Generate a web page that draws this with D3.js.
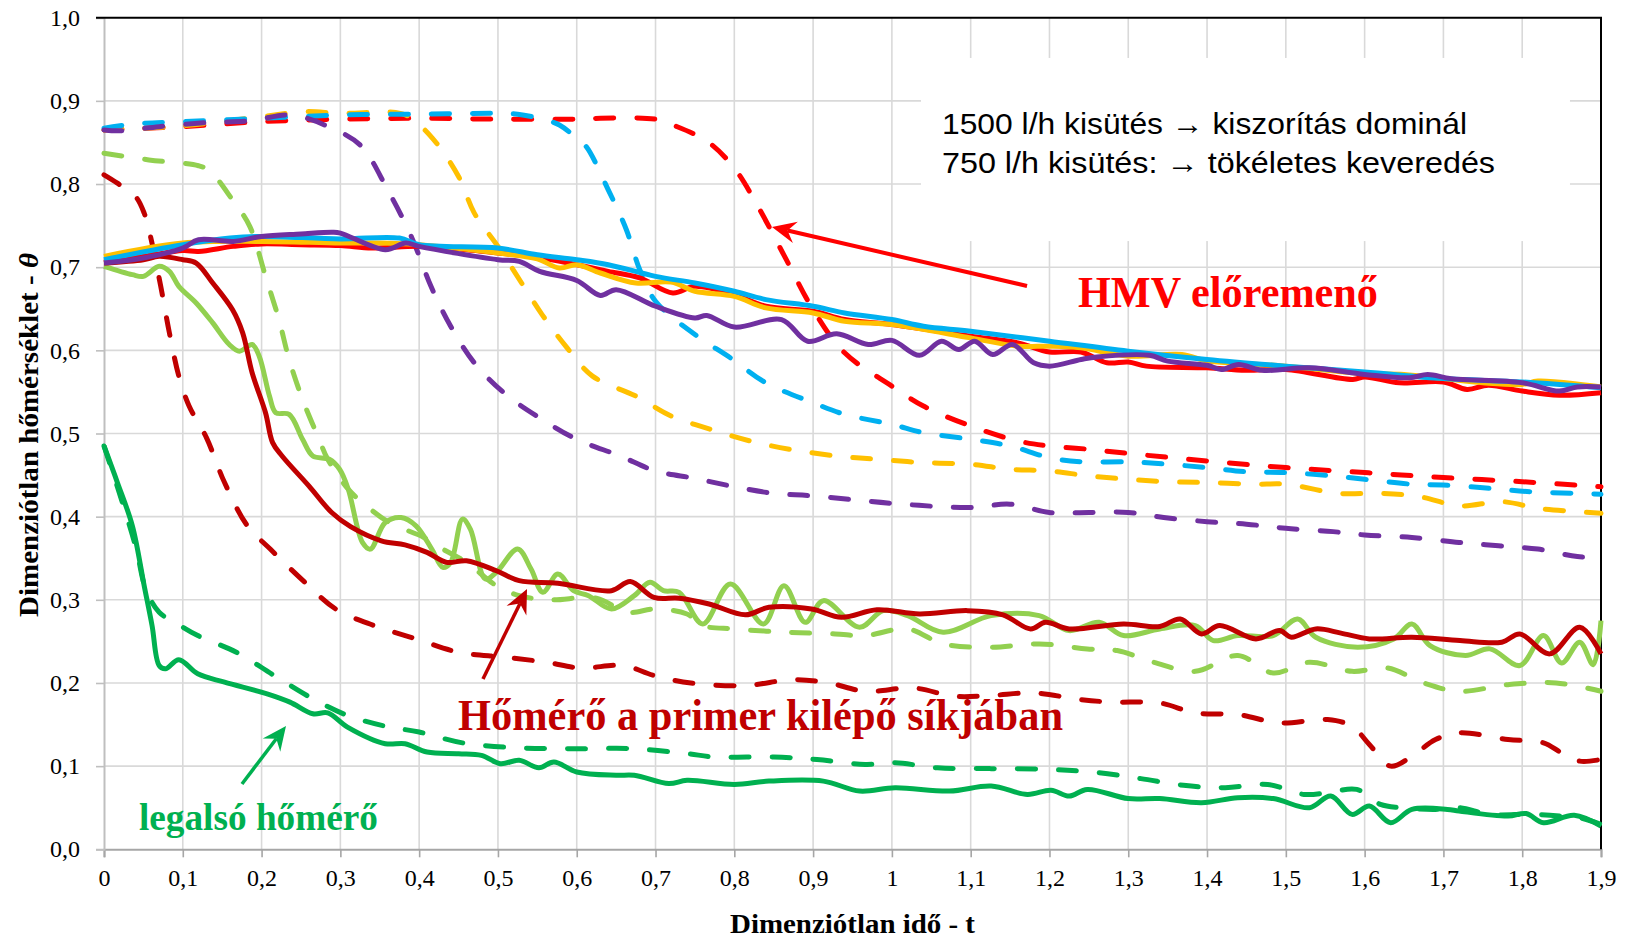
<!DOCTYPE html>
<html><head><meta charset="utf-8">
<script src="https://cdn.jsdelivr.net/npm/d3@7"></script>
<style>body{margin:0;background:#fff;} svg{display:block}</style>
</head><body><svg id="c" width="1630" height="940"></svg>
<script>
// ---------- data ----------
const xTicks = [0,0.1,0.2,0.3,0.4,0.5,0.6,0.7,0.8,0.9,1,1.1,1.2,1.3,1.4,1.5,1.6,1.7,1.8,1.9];
const yTicks = [0,0.1,0.2,0.3,0.4,0.5,0.6,0.7,0.8,0.9,1.0];

const redSolid = [[0,0.706],[0.05,0.713],[0.1,0.72],[0.12,0.719],[0.164,0.725],[0.2,0.728],[0.25,0.727],[0.3,0.726],[0.34,0.723],[0.4,0.725],[0.46,0.721],[0.5,0.717],[0.55,0.712],[0.6,0.703],[0.64,0.695],[0.68,0.687],[0.722,0.669],[0.75,0.677],[0.8,0.667],[0.84,0.653],[0.9,0.647],[0.94,0.637],[1.0,0.631],[1.1,0.617],[1.16,0.609],[1.2,0.598],[1.24,0.598],[1.273,0.585],[1.3,0.586],[1.323,0.581],[1.4,0.579],[1.449,0.576],[1.5,0.577],[1.585,0.565],[1.6,0.568],[1.644,0.561],[1.7,0.562],[1.73,0.553],[1.757,0.558],[1.8,0.551],[1.847,0.546],[1.9,0.549]];
const yellowSolid = [[0,0.713],[0.1,0.729],[0.2,0.731],[0.3,0.729],[0.35,0.729],[0.4,0.727],[0.5,0.717],[0.55,0.71],[0.578,0.699],[0.6,0.703],[0.63,0.693],[0.675,0.681],[0.72,0.682],[0.75,0.671],[0.8,0.665],[0.84,0.651],[0.9,0.645],[0.94,0.635],[1.0,0.631],[1.1,0.615],[1.16,0.605],[1.2,0.605],[1.24,0.603],[1.3,0.593],[1.368,0.595],[1.4,0.587],[1.45,0.584],[1.5,0.581],[1.6,0.572],[1.65,0.571],[1.7,0.566],[1.75,0.561],[1.8,0.559],[1.82,0.563],[1.9,0.556]];
const blueSolid = [[0,0.709],[0.1,0.727],[0.16,0.735],[0.2,0.737],[0.3,0.734],[0.375,0.735],[0.4,0.727],[0.5,0.723],[0.55,0.715],[0.6,0.709],[0.64,0.703],[0.7,0.689],[0.75,0.681],[0.8,0.671],[0.84,0.661],[0.9,0.653],[0.94,0.645],[1.0,0.637],[1.04,0.629],[1.1,0.623],[1.2,0.611],[1.3,0.599],[1.4,0.589],[1.5,0.581],[1.6,0.574],[1.7,0.566],[1.8,0.562],[1.9,0.555]];
const purpleSolid = [[0,0.705],[0.05,0.711],[0.1,0.723],[0.12,0.733],[0.164,0.731],[0.2,0.737],[0.25,0.74],[0.29,0.742],[0.3,0.741],[0.357,0.721],[0.383,0.729],[0.4,0.725],[0.5,0.709],[0.527,0.707],[0.553,0.695],[0.6,0.684],[0.63,0.666],[0.65,0.673],[0.7,0.653],[0.75,0.639],[0.765,0.642],[0.8,0.628],[0.86,0.637],[0.893,0.611],[0.93,0.62],[0.97,0.607],[1.0,0.612],[1.035,0.594],[1.063,0.611],[1.085,0.601],[1.105,0.611],[1.128,0.595],[1.153,0.607],[1.18,0.585],[1.2,0.581],[1.24,0.589],[1.26,0.592],[1.327,0.594],[1.35,0.587],[1.4,0.582],[1.418,0.577],[1.44,0.583],[1.47,0.576],[1.53,0.579],[1.6,0.571],[1.657,0.567],[1.68,0.571],[1.71,0.566],[1.8,0.561],[1.847,0.551],[1.87,0.556],[1.9,0.556]];

const redDashed = [[0,0.865],[0.1,0.869],[0.2,0.875],[0.3,0.878],[0.4,0.879],[0.5,0.878],[0.6,0.878],[0.63,0.879],[0.7,0.878],[0.722,0.871],[0.766,0.851],[0.8,0.819],[0.83,0.773],[0.866,0.709],[0.9,0.649],[0.94,0.597],[1.0,0.557],[1.04,0.533],[1.1,0.509],[1.16,0.491],[1.2,0.485],[1.25,0.481],[1.3,0.476],[1.4,0.467],[1.5,0.459],[1.6,0.453],[1.7,0.447],[1.8,0.442],[1.9,0.436]];
const yellowDashed = [[0,0.865],[0.1,0.87],[0.2,0.881],[0.256,0.887],[0.3,0.885],[0.37,0.886],[0.387,0.881],[0.417,0.855],[0.45,0.809],[0.47,0.765],[0.5,0.725],[0.53,0.681],[0.556,0.643],[0.586,0.605],[0.62,0.569],[0.675,0.545],[0.72,0.521],[0.77,0.505],[0.82,0.491],[0.87,0.481],[0.93,0.473],[0.98,0.469],[1.04,0.465],[1.1,0.463],[1.15,0.457],[1.2,0.455],[1.25,0.449],[1.3,0.445],[1.35,0.442],[1.4,0.441],[1.46,0.439],[1.5,0.439],[1.567,0.428],[1.62,0.428],[1.67,0.424],[1.72,0.413],[1.775,0.418],[1.82,0.41],[1.87,0.406],[1.9,0.404]];
const blueDashed = [[0,0.867],[0.036,0.872],[0.1,0.875],[0.2,0.879],[0.3,0.883],[0.4,0.884],[0.5,0.885],[0.525,0.884],[0.557,0.878],[0.578,0.871],[0.6,0.855],[0.612,0.845],[0.64,0.793],[0.663,0.745],[0.68,0.697],[0.7,0.659],[0.75,0.619],[0.795,0.591],[0.84,0.561],[0.9,0.537],[0.94,0.523],[1.0,0.511],[1.04,0.501],[1.1,0.493],[1.15,0.485],[1.2,0.471],[1.24,0.466],[1.3,0.466],[1.35,0.463],[1.4,0.459],[1.45,0.454],[1.5,0.453],[1.56,0.449],[1.6,0.445],[1.66,0.439],[1.7,0.438],[1.76,0.434],[1.81,0.43],[1.87,0.428],[1.9,0.427]];
const purpleDashed = [[0,0.865],[0.02,0.864],[0.07,0.869],[0.134,0.874],[0.185,0.876],[0.23,0.883],[0.25,0.881],[0.28,0.871],[0.325,0.847],[0.36,0.793],[0.39,0.737],[0.415,0.677],[0.44,0.629],[0.47,0.585],[0.51,0.547],[0.556,0.517],[0.6,0.493],[0.655,0.473],[0.7,0.455],[0.75,0.446],[0.8,0.436],[0.85,0.428],[0.9,0.425],[1.0,0.416],[1.1,0.411],[1.15,0.415],[1.2,0.405],[1.25,0.405],[1.3,0.405],[1.345,0.399],[1.4,0.394],[1.45,0.391],[1.5,0.386],[1.56,0.382],[1.6,0.378],[1.66,0.375],[1.72,0.369],[1.77,0.365],[1.82,0.361],[1.87,0.352],[1.9,0.351]];

const lightGreenDashed = [[0,0.837],[0.057,0.829],[0.12,0.822],[0.134,0.816],[0.163,0.781],[0.185,0.749],[0.205,0.689],[0.222,0.637],[0.235,0.589],[0.252,0.541],[0.273,0.493],[0.284,0.469],[0.31,0.433],[0.333,0.413],[0.362,0.393],[0.406,0.375],[0.43,0.361],[0.46,0.345],[0.498,0.317],[0.527,0.305],[0.566,0.3],[0.625,0.302],[0.664,0.285],[0.7,0.289],[0.74,0.283],[0.76,0.269],[0.8,0.265],[0.867,0.261],[0.928,0.259],[0.966,0.257],[1.02,0.265],[1.065,0.247],[1.126,0.243],[1.187,0.247],[1.248,0.241],[1.286,0.239],[1.332,0.225],[1.385,0.214],[1.439,0.233],[1.484,0.212],[1.53,0.225],[1.584,0.214],[1.629,0.218],[1.675,0.2],[1.72,0.19],[1.782,0.198],[1.843,0.2],[1.9,0.19]];
const lightGreenSolid = [[0,0.701],[0.036,0.691],[0.05,0.689],[0.07,0.701],[0.083,0.695],[0.095,0.677],[0.117,0.657],[0.138,0.633],[0.159,0.607],[0.172,0.599],[0.188,0.607],[0.197,0.593],[0.21,0.545],[0.218,0.525],[0.235,0.523],[0.252,0.493],[0.265,0.473],[0.286,0.469],[0.299,0.457],[0.31,0.433],[0.328,0.369],[0.338,0.361],[0.357,0.393],[0.377,0.399],[0.396,0.389],[0.416,0.361],[0.43,0.339],[0.44,0.345],[0.455,0.397],[0.465,0.385],[0.484,0.325],[0.498,0.333],[0.525,0.361],[0.542,0.337],[0.557,0.309],[0.576,0.331],[0.596,0.311],[0.615,0.305],[0.644,0.289],[0.673,0.305],[0.693,0.321],[0.71,0.311],[0.73,0.309],[0.76,0.271],[0.795,0.319],[0.837,0.271],[0.863,0.317],[0.89,0.273],[0.913,0.299],[0.959,0.267],[0.989,0.287],[1.02,0.281],[1.065,0.261],[1.126,0.281],[1.187,0.281],[1.225,0.263],[1.263,0.273],[1.294,0.257],[1.34,0.265],[1.385,0.269],[1.408,0.251],[1.439,0.257],[1.484,0.257],[1.515,0.277],[1.538,0.255],[1.591,0.243],[1.637,0.253],[1.66,0.271],[1.683,0.245],[1.728,0.233],[1.759,0.241],[1.797,0.221],[1.827,0.257],[1.85,0.224],[1.873,0.249],[1.89,0.222],[1.9,0.275]];

const darkRedDashed = [[0,0.811],[0.017,0.801],[0.04,0.785],[0.051,0.765],[0.059,0.737],[0.072,0.677],[0.083,0.621],[0.095,0.569],[0.108,0.533],[0.13,0.495],[0.153,0.441],[0.182,0.389],[0.211,0.361],[0.255,0.321],[0.294,0.289],[0.343,0.269],[0.396,0.253],[0.45,0.237],[0.508,0.231],[0.561,0.225],[0.605,0.218],[0.659,0.221],[0.698,0.209],[0.745,0.2],[0.814,0.197],[0.875,0.204],[0.92,0.2],[0.966,0.19],[1.027,0.194],[1.08,0.184],[1.126,0.185],[1.18,0.188],[1.24,0.18],[1.279,0.177],[1.34,0.176],[1.385,0.164],[1.439,0.162],[1.492,0.152],[1.553,0.156],[1.584,0.148],[1.606,0.126],[1.633,0.1],[1.66,0.112],[1.69,0.132],[1.72,0.14],[1.782,0.132],[1.827,0.128],[1.85,0.116],[1.873,0.106],[1.9,0.108]];
const darkRedSolid = [[0,0.705],[0.05,0.709],[0.07,0.713],[0.1,0.709],[0.117,0.705],[0.138,0.681],[0.163,0.649],[0.176,0.621],[0.188,0.573],[0.205,0.525],[0.214,0.489],[0.226,0.473],[0.26,0.437],[0.289,0.405],[0.313,0.388],[0.352,0.371],[0.382,0.366],[0.41,0.357],[0.435,0.345],[0.46,0.347],[0.498,0.335],[0.527,0.323],[0.576,0.32],[0.644,0.311],[0.668,0.322],[0.698,0.303],[0.73,0.302],[0.768,0.295],[0.814,0.282],[0.844,0.291],[0.898,0.289],[0.936,0.279],[0.981,0.288],[1.035,0.283],[1.096,0.287],[1.141,0.282],[1.176,0.265],[1.195,0.273],[1.225,0.265],[1.294,0.271],[1.34,0.268],[1.366,0.277],[1.393,0.259],[1.416,0.269],[1.462,0.253],[1.492,0.263],[1.507,0.255],[1.538,0.265],[1.57,0.26],[1.606,0.253],[1.66,0.255],[1.721,0.251],[1.774,0.249],[1.797,0.259],[1.835,0.235],[1.873,0.267],[1.9,0.235]];

const greenDashed = [[0,0.485],[0.022,0.421],[0.041,0.361],[0.053,0.313],[0.07,0.285],[0.09,0.273],[0.119,0.257],[0.168,0.237],[0.216,0.209],[0.265,0.181],[0.309,0.161],[0.357,0.148],[0.4,0.141],[0.455,0.128],[0.527,0.122],[0.6,0.121],[0.673,0.121],[0.74,0.115],[0.776,0.111],[0.85,0.111],[0.905,0.108],[0.966,0.102],[1.004,0.104],[1.058,0.098],[1.126,0.097],[1.202,0.096],[1.263,0.092],[1.316,0.085],[1.37,0.077],[1.423,0.074],[1.477,0.078],[1.523,0.066],[1.553,0.068],[1.59,0.072],[1.62,0.054],[1.645,0.05],[1.69,0.048],[1.72,0.05],[1.759,0.042],[1.812,0.042],[1.85,0.04],[1.873,0.038],[1.9,0.03]];
const greenSolid = [[0,0.485],[0.017,0.441],[0.036,0.389],[0.051,0.317],[0.061,0.269],[0.07,0.221],[0.078,0.217],[0.095,0.228],[0.119,0.211],[0.153,0.201],[0.207,0.187],[0.236,0.177],[0.265,0.163],[0.284,0.164],[0.309,0.147],[0.357,0.127],[0.382,0.127],[0.41,0.117],[0.45,0.115],[0.479,0.113],[0.503,0.103],[0.527,0.107],[0.552,0.098],[0.571,0.105],[0.6,0.093],[0.65,0.089],[0.673,0.089],[0.717,0.079],[0.74,0.083],[0.8,0.078],[0.844,0.082],[0.913,0.082],[0.959,0.07],[1.004,0.074],[1.073,0.07],[1.126,0.076],[1.172,0.066],[1.202,0.071],[1.225,0.064],[1.248,0.072],[1.3,0.061],[1.34,0.061],[1.393,0.056],[1.439,0.062],[1.484,0.061],[1.53,0.05],[1.557,0.064],[1.584,0.042],[1.606,0.052],[1.633,0.032],[1.66,0.048],[1.705,0.048],[1.72,0.046],[1.782,0.04],[1.805,0.043],[1.827,0.032],[1.866,0.041],[1.9,0.028]];

// series list (drawing order)
const series = [
  {data: redDashed,        color: "#FF0000", dashed: true},
  {data: yellowDashed,     color: "#FFC000", dashed: true},
  {data: blueDashed,       color: "#00B0F0", dashed: true},
  {data: purpleDashed,     color: "#7030A0", dashed: true},
  {data: lightGreenDashed, color: "#92D050", dashed: true},
  {data: darkRedDashed,    color: "#C00000", dashed: true},
  {data: greenDashed,      color: "#00B050", dashed: true},
  {data: lightGreenSolid,  color: "#92D050", dashed: false},
  {data: darkRedSolid,     color: "#C00000", dashed: false},
  {data: greenSolid,       color: "#00B050", dashed: false},
  {data: redSolid,         color: "#FF0000", dashed: false},
  {data: yellowSolid,      color: "#FFC000", dashed: false},
  {data: blueSolid,        color: "#00B0F0", dashed: false},
  {data: purpleSolid,      color: "#7030A0", dashed: false}
];

// annotations (data units)
const noteLines = ["1500 l/h kisütés \u2192 kiszorítás dominál", "750 l/h kisütés:  \u2192 tökéletes keveredés"];
const labels = [
  {text: "HMV előremenő", t: 1.2362, v: 0.652, color: "#FF0000", size: 45, len: 300},
  {text: "Hőmérő a primer kilépő síkjában", t: 0.4493, v: 0.1435, color: "#C00000", size: 45, len: 605},
  {text: "legalsó hőmérő", t: 0.0444, v: 0.0232, color: "#00B050", size: 37, len: 239}
];
const arrows = [
  {from: [1.1715, 0.6774], to: [0.8478, 0.7484], color: "#FF0000", w: 4},
  {from: [0.481, 0.2047], to: [0.5369, 0.3129], color: "#C00000", w: 3.5},
  {from: [0.1751, 0.0785], to: [0.231, 0.1483], color: "#00B050", w: 3.5}
];

// ---------- drawing ----------
const svg = d3.select("#c");
const L = 104, R = 1601, T = 17.7, B = 849.3;
const x = d3.scaleLinear().domain([0, 1.9]).range([L, R]);
const y = d3.scaleLinear().domain([0, 1]).range([B, T]);
const fmtY = v => d3.format(".1f")(v).replace(".", ",");
const fmtX = v => (Math.round(v * 10) / 10).toString().replace(".", ",");

// gridlines
const grid = svg.append("g");
grid.selectAll("line.v").data(xTicks.slice(1)).join("line")
  .attr("x1", d => x(d)).attr("x2", d => x(d)).attr("y1", T).attr("y2", B)
  .attr("stroke", "#d9d9d9").attr("stroke-width", 1.6);
grid.selectAll("line.h").data(yTicks.slice(1, -1)).join("line")
  .attr("x1", L).attr("x2", R).attr("y1", d => y(d)).attr("y2", d => y(d))
  .attr("stroke", "#d9d9d9").attr("stroke-width", 1.6);

// white box behind upper note (covers gridlines)
svg.append("rect")
  .attr("x", x(1.0369)).attr("y", y(0.9516))
  .attr("width", x(1.8606) - x(1.0369)).attr("height", y(0.7314) - y(0.9516))
  .attr("fill", "#fff");

// axes
const xAxis = d3.axisBottom(x).tickValues(xTicks).tickFormat(fmtX).tickSize(8).tickPadding(12);
const gx = svg.append("g").attr("transform", `translate(0,${B})`).call(xAxis);
gx.select(".domain").attr("stroke", "#a6a6a6").attr("stroke-width", 2);
gx.selectAll(".tick line").attr("stroke", "#a6a6a6").attr("stroke-width", 1.6);
gx.selectAll(".tick text").attr("font-family", "'Liberation Serif', serif").attr("font-size", 24).attr("fill", "#000");

const yAxis = d3.axisLeft(y).tickValues(yTicks).tickFormat(fmtY).tickSize(8).tickPadding(16);
const gy = svg.append("g").attr("transform", `translate(${L},0)`).call(yAxis);
gy.select(".domain").attr("stroke", "#bfbfbf").attr("stroke-width", 2);
gy.selectAll(".tick line").attr("stroke", "#bfbfbf").attr("stroke-width", 1.6);
gy.selectAll(".tick text").attr("font-family", "'Liberation Serif', serif").attr("font-size", 24).attr("fill", "#000");

// top and right border
svg.append("line").attr("x1", L - 8).attr("x2", R + 1).attr("y1", T).attr("y2", T).attr("stroke", "#000").attr("stroke-width", 2);
svg.append("line").attr("x1", R).attr("x2", R).attr("y1", T).attr("y2", B).attr("stroke", "#000").attr("stroke-width", 2);

// series
const line = d3.line().x(d => x(d[0])).y(d => y(d[1])).curve(d3.curveCatmullRom.alpha(0.5));
const gs = svg.append("g");
series.forEach(s => {
  gs.append("path").attr("d", line(s.data))
    .attr("fill", "none").attr("stroke", s.color).attr("stroke-width", 5)
    .attr("stroke-linejoin", "round")
    .attr("stroke-linecap", s.dashed ? "round" : "butt")
    .attr("stroke-dasharray", s.dashed ? "18,23" : null);
});

// upper note text
noteLines.forEach((txt, i) => {
  svg.append("text").attr("x", x(1.0636)).attr("y", y(i === 0 ? 0.8601 : 0.8132))
    .attr("font-family", "'Liberation Sans', Arial, sans-serif").attr("font-size", 30)
    .attr("textLength", i === 0 ? 525 : 553).attr("lengthAdjust", "spacingAndGlyphs")
    .attr("fill", "#000").text(txt);
});

// labels
labels.forEach(l => {
  svg.append("text").attr("x", x(l.t)).attr("y", y(l.v))
    .attr("font-family", "'Liberation Serif', 'Times New Roman', serif").attr("font-weight", "bold")
    .attr("font-size", l.size).attr("fill", l.color)
    .attr("textLength", l.len).attr("lengthAdjust", "spacingAndGlyphs")
    .text(l.text);
});

// arrows
arrows.forEach(a => {
  const x1 = x(a.from[0]), y1 = y(a.from[1]), x2 = x(a.to[0]), y2 = y(a.to[1]);
  const ang = Math.atan2(y2 - y1, x2 - x1);
  const len = 24, wid = 11, notch = 8;
  const ux = Math.cos(ang), uy = Math.sin(ang), px = -uy, py = ux;
  const bx = x2 - ux * len, by = y2 - uy * len;
  const nx = x2 - ux * (len - notch), ny = y2 - uy * (len - notch);
  svg.append("line").attr("x1", x1).attr("y1", y1).attr("x2", nx).attr("y2", ny)
    .attr("stroke", a.color).attr("stroke-width", a.w);
  svg.append("path")
    .attr("d", `M${x2},${y2} L${bx + px * wid},${by + py * wid} L${nx},${ny} L${bx - px * wid},${by - py * wid} Z`)
    .attr("fill", a.color);
});

// axis titles
svg.append("text").attr("x", (L + R) / 2).attr("y", 933).attr("text-anchor", "middle")
  .attr("font-family", "'Liberation Serif', serif").attr("font-weight", "bold").attr("font-size", 28)
  .attr("textLength", 245).attr("lengthAdjust", "spacingAndGlyphs")
  .text("Dimenziótlan idő - t");

const yt = svg.append("text").attr("transform", "translate(38,435) rotate(-90)").attr("text-anchor", "middle")
  .attr("font-family", "'Liberation Serif', serif").attr("font-weight", "bold").attr("font-size", 28)
  .attr("textLength", 364).attr("lengthAdjust", "spacingAndGlyphs");
yt.append("tspan").text("Dimenziótlan hőmérséklet - ");
yt.append("tspan").attr("font-style", "italic").text("θ");
</script>
</body></html>
